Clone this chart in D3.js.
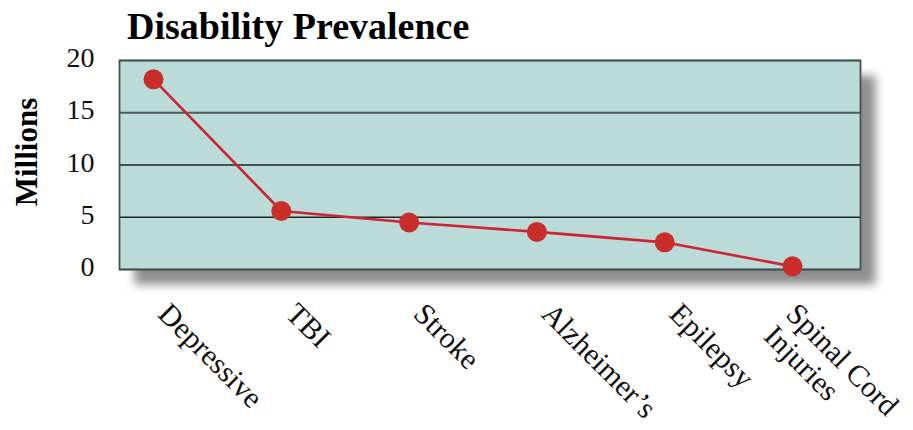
<!DOCTYPE html>
<html>
<head>
<meta charset="utf-8">
<script src="https://cdn.jsdelivr.net/npm/d3@7"></script>
<style>
  html, body { margin: 0; padding: 0; background: #fff; }
  svg { display: block; }
</style>
</head>
<body>
<svg id="chart" width="913" height="430"></svg>
<script>
// Disability prevalence by condition, in millions
const categories = ["Depressive", "TBI", "Stroke", "Alzheimer\u2019s", "Epilepsy", "Spinal Cord\nInjuries"];
const prevalence = [18.2, 5.6, 4.5, 3.6, 2.6, 0.3];
const yTicks = [0, 5, 10, 15, 20];
const titleText = "Disability Prevalence";
const yAxisTitle = "Millions";

const svg = d3.select("#chart");
const serif = "'Liberation Serif', 'Times New Roman', serif";

const plot = { left: 119.5, top: 60.5, right: 860.5, bottom: 269.5 };

const x = d3.scalePoint()
  .domain(categories)
  .range([plot.left + 34, plot.right - 68]);

const y = d3.scaleLinear()
  .domain([0, 20])
  .range([plot.bottom, plot.top]);

// drop shadow behind the plot panel
const defs = svg.append("defs");
defs.append("filter")
  .attr("id", "panelShadow")
  .attr("x", "-10%").attr("y", "-20%")
  .attr("width", "120%").attr("height", "140%")
  .append("feGaussianBlur")
  .attr("stdDeviation", 5);

svg.append("rect")
  .attr("x", plot.left + 15)
  .attr("y", plot.top + 15)
  .attr("width", plot.right - plot.left)
  .attr("height", plot.bottom - plot.top)
  .attr("fill", "#8e8e8e")
  .attr("filter", "url(#panelShadow)");

// panel background
svg.append("rect")
  .attr("x", plot.left)
  .attr("y", plot.top)
  .attr("width", plot.right - plot.left)
  .attr("height", plot.bottom - plot.top)
  .attr("fill", "#badbd8");

// horizontal gridlines
svg.append("g")
  .selectAll("line")
  .data(yTicks)
  .join("line")
  .attr("x1", plot.left)
  .attr("x2", plot.right)
  .attr("y1", d => y(d))
  .attr("y2", d => y(d))
  .attr("stroke", d => d === 15 ? "#4d5d5b" : "#1c2624")
  .attr("stroke-width", d => d === 15 ? 1.8 : 1.3);

// panel border
svg.append("rect")
  .attr("x", plot.left)
  .attr("y", plot.top)
  .attr("width", plot.right - plot.left)
  .attr("height", plot.bottom - plot.top)
  .attr("fill", "none")
  .attr("stroke", "#45524f")
  .attr("stroke-width", 1.8);

// y axis tick labels
const yAxis = d3.axisLeft(y)
  .tickValues(yTicks)
  .tickSize(0)
  .tickPadding(0)
  .tickFormat(d3.format("d"));

const yAxisG = svg.append("g")
  .attr("transform", `translate(${plot.left - 25},0)`)
  .call(yAxis);
yAxisG.select(".domain").remove();
yAxisG.selectAll("text")
  .attr("font-family", serif)
  .attr("font-size", 28)
  .attr("fill", "#111")
  .attr("dy", "0.22em");

// line
const line = d3.line()
  .x((d, i) => x(categories[i]))
  .y(d => y(d));

svg.append("path")
  .datum(prevalence)
  .attr("d", line)
  .attr("fill", "none")
  .attr("stroke", "#cc2433")
  .attr("stroke-width", 2.6);

// markers
svg.append("g")
  .selectAll("circle")
  .data(prevalence)
  .join("circle")
  .attr("cx", (d, i) => x(categories[i]))
  .attr("cy", d => y(d))
  .attr("r", 10)
  .attr("fill", "#c92e2a");

// rotated category labels; two-line labels are nudged left so both lines sit under the point
const xLabels = svg.append("g")
  .selectAll("text")
  .data(categories)
  .join("text")
  .attr("transform", d => {
    const extra = d.split("\n").length - 1;
    return `translate(${x(d) + 3 - 11 * extra},${plot.bottom + 46}) rotate(45)`;
  })
  .attr("font-family", serif)
  .attr("font-size", 30)
  .attr("fill", "#111");

xLabels.each(function(d) {
  const lines = d.split("\n");
  d3.select(this).selectAll("tspan")
    .data(lines)
    .join("tspan")
    .attr("x", 0)
    .attr("dy", (l, i) => i === 0 ? 0 : "1.05em")
    .text(l => l);
});

// title
svg.append("text")
  .attr("x", 127)
  .attr("y", 39)
  .attr("font-family", serif)
  .attr("font-weight", "bold")
  .attr("font-size", 38)
  .attr("fill", "#000")
  .text(titleText);

// y axis title
svg.append("text")
  .attr("transform", `translate(37,${(plot.top + plot.bottom) / 2 - 13}) rotate(-90)`)
  .attr("text-anchor", "middle")
  .attr("font-family", serif)
  .attr("font-weight", "bold")
  .attr("font-size", 31)
  .attr("fill", "#000")
  .text(yAxisTitle);
</script>
</body>
</html>
